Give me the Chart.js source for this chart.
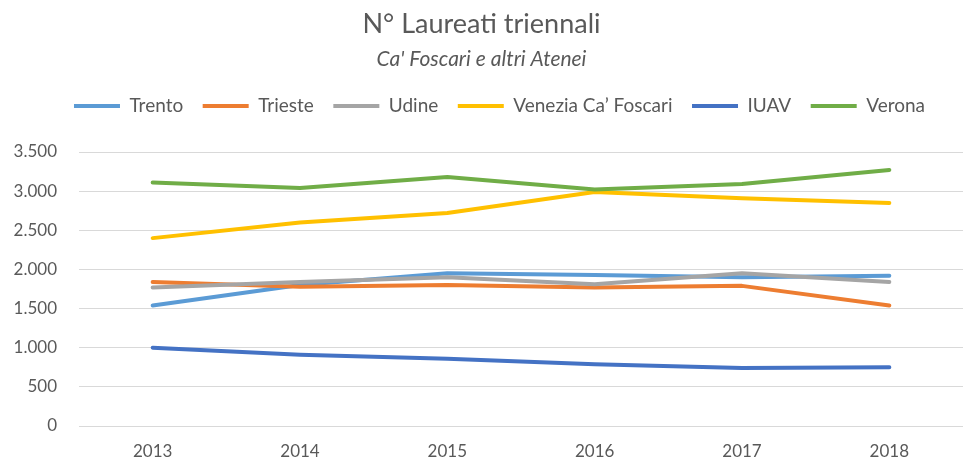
<!DOCTYPE html>
<html>
<head>
<meta charset="utf-8">
<script src="https://cdn.jsdelivr.net/npm/chart.js@4/dist/chart.umd.min.js"></script>
<style>
  html, body { margin: 0; padding: 0; background: #ffffff; }
  #wrap { width: 967px; height: 463px; position: relative; }
</style>
</head>
<body>
<div id="wrap"><canvas id="c" width="967" height="463"></canvas></div>
<script>
const years = ['2013', '2014', '2015', '2016', '2017', '2018'];
const seriesNames = ['Trento', 'Trieste', 'Udine', 'Venezia Ca\u2019 Foscari', 'IUAV', 'Verona'];
const trento  = [1540, 1800, 1950, 1930, 1900, 1920];
const trieste = [1840, 1780, 1800, 1770, 1790, 1540];
const udine   = [1770, 1840, 1900, 1810, 1950, 1840];
const venezia = [2400, 2600, 2720, 2990, 2910, 2850];
const iuav    = [1000, 910, 860, 790, 740, 750];
const verona  = [3110, 3040, 3180, 3020, 3090, 3270];
const seriesColors = ['#5B9BD5', '#ED7D31', '#A5A5A5', '#FFC000', '#4472C4', '#70AD47'];
const yTicks = [0, 500, 1000, 1500, 2000, 2500, 3000, 3500];

const allValues = [trento, trieste, udine, venezia, iuav, verona];
const FONT = 'Lato, "Open Sans", sans-serif';
const TXT = '#595959';

function fmt(v) {
  return String(Math.round(v)).replace(/\B(?=(\d{3})+(?!\d))/g, '.');
}

const datasets = allValues.map((vals, i) => ({
  label: seriesNames[i],
  data: vals,
  borderColor: seriesColors[i],
  backgroundColor: seriesColors[i],
  borderWidth: 4,
  borderCapStyle: 'round',
  borderJoinStyle: 'round',
  pointRadius: 0,
  pointHoverRadius: 0,
  tension: 0,
  fill: false,
  order: allValues.length - i
}));

const legendPad = {
  id: 'legendPad',
  afterInit(chart) {
    const lg = chart.legend;
    if (lg && !lg._patched) {
      const orig = lg.fit;
      lg.fit = function () { orig.call(this); this.height += 26.5; };
      lg._patched = true;
    }
  },
  afterLayout(chart) {
    const lg = chart.legend;
    if (lg) { lg.left += 18; lg.right += 18; }
  }
};

new Chart(document.getElementById('c'), {
  type: 'line',
  data: { labels: years, datasets: datasets },
  plugins: [legendPad],
  options: {
    responsive: false,
    animation: false,
    devicePixelRatio: 1,
    layout: { padding: { left: 0, right: 4, top: 0, bottom: 0 } },
    plugins: {
      tooltip: { enabled: false },
      title: {
        display: true,
        text: 'N\u00B0 Laureati triennali',
        color: TXT,
        font: { family: FONT, size: 27, weight: '400' },
        padding: { top: 8, bottom: 6 }
      },
      subtitle: {
        display: true,
        text: 'Ca\' Foscari e altri Atenei',
        color: TXT,
        font: { family: FONT, size: 21, style: 'italic', weight: '400' },
        padding: { top: 0, bottom: 5.4 }
      },
      legend: {
        display: true,
        position: 'top',
        labels: {
          color: TXT,
          font: { family: FONT, size: 19 },
          boxWidth: 46,
          boxHeight: 4,
          padding: 19.5,
          sort: (a, b) => a.datasetIndex - b.datasetIndex,
          generateLabels(chart) {
            const items = Chart.defaults.plugins.legend.labels.generateLabels(chart);
            items.forEach(it => {
              it.lineWidth = 0;
              it.fillStyle = seriesColors[it.datasetIndex];
              it.strokeStyle = seriesColors[it.datasetIndex];
            });
            return items;
          }
        }
      }
    },
    scales: {
      x: {
        type: 'category',
        offset: true,
        grid: { display: false, drawTicks: false },
        border: { display: false },
        ticks: { color: TXT, font: { family: FONT, size: 17 }, padding: 15, maxRotation: 0 },
        afterFit(s) { s.height = 37; }
      },
      y: {
        min: 0,
        max: 3500,
        afterBuildTicks(s) { s.ticks = yTicks.map(v => ({ value: v })); },
        grid: { color: '#D9D9D9', lineWidth: 1, drawTicks: false },
        border: { display: false },
        ticks: { color: TXT, font: { family: FONT, size: 17 }, padding: 22, callback: v => fmt(v) },
        afterFit(s) { s.width = 79; }
      }
    }
  }
});
</script>
</body>
</html>
